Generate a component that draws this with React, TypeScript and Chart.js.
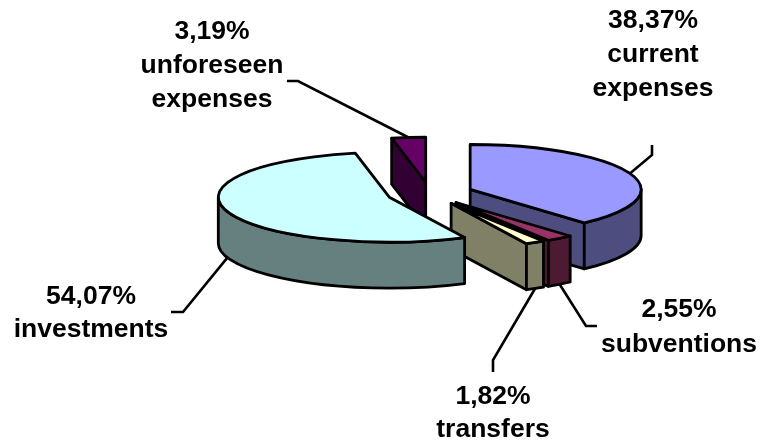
import { useEffect, useRef } from "react";
import { Chart, registerables } from "chart.js";

Chart.register(...registerables);

const categories = ["current expenses", "subventions", "transfers", "investments", "unforeseen expenses"];
const shares = [38.37, 2.55, 1.82, 54.07, 3.19];
const valueLabels = ["38,37%", "2,55%", "1,82%", "54,07%", "3,19%"];
const topColors = ["#9999FF", "#993366", "#FFFFCC", "#CCFFFF", "#660066"];
const sideColors = ["#4D4D80", "#4D1933", "#808066", "#668080", "#330033"];

// Slices are painted back to front so nearer walls cover farther ones.
const paintOrder = [4, 0, 1, 2, 3];

const TILT = 0.263;
const DEPTH = 46;
const EXPLODE = 43;
const STROKE = 2.8;
const LEADER_STROKE = 2.6;
const FONT_PX = 26.5;

// Label blocks: centre x and the first baseline, then the line pitch.
const labelBlocks = [
  { lines: [valueLabels[0], "current", "expenses"], x: 653, y: 28, pitch: 34 },
  { lines: [valueLabels[1], "subventions"], x: 679, y: 317, pitch: 35 },
  { lines: [valueLabels[2], "transfers"], x: 493, y: 404, pitch: 33 },
  { lines: [valueLabels[3], "investments"], x: 91, y: 304, pitch: 33 },
  { lines: [valueLabels[4], "unforeseen", "expenses"], x: 212, y: 39, pitch: 34 },
];

// Leader elbows, listed from the label end towards the slice.
const leaderElbows = [
  [[652, 145], [652, 155]],
  [[597, 326], [586, 326]],
  [[493, 372], [493, 360]],
  [[171, 312], [183, 312]],
  [[287, 81], [298, 81]],
];
// Whether a leader lands on the lower rim (front wall) of its slice.
const leaderOnWall = [false, true, true, true, false];

const pie3d = {
  id: "pie3d",
  beforeDatasetsDraw(chart: any) {
    const { ctx } = chart;
    const arcs = chart.getDatasetMeta(0).data;

    const geometry = (i: number) => {
      const arc = arcs[i];
      const mid = (arc.startAngle + arc.endAngle) / 2;
      const offset = arc.options.offset;
      return {
        cx: arc.x + Math.cos(mid) * offset,
        cy: arc.y + Math.sin(mid) * offset * TILT,
        r: arc.outerRadius,
        start: arc.startAngle,
        end: arc.endAngle,
        mid,
      };
    };

    ctx.save();
    ctx.lineJoin = "round";
    ctx.lineWidth = STROKE;
    ctx.strokeStyle = "#000000";

    const paint = (fill: string) => {
      ctx.fillStyle = fill;
      ctx.fill();
      ctx.stroke();
    };

    const radialFace = (g: any, a: number, fill: string) => {
      const px = g.cx + Math.cos(a) * g.r;
      const py = g.cy + Math.sin(a) * g.r * TILT;
      ctx.beginPath();
      ctx.moveTo(g.cx, g.cy);
      ctx.lineTo(px, py);
      ctx.lineTo(px, py + DEPTH);
      ctx.lineTo(g.cx, g.cy + DEPTH);
      ctx.closePath();
      paint(fill);
    };

    paintOrder.forEach((i) => {
      const g = geometry(i);
      const side = sideColors[i];
      const top = arcs[i].options.backgroundColor;

      // A cut face shows only when its outward normal points at the viewer.
      if (Math.cos(g.start) < -1e-6) radialFace(g, g.start, side);
      if (Math.cos(g.end) > 1e-6) radialFace(g, g.end, side);

      const lo = Math.max(g.start, 0);
      const hi = Math.min(g.end, Math.PI);
      if (hi > lo) {
        ctx.beginPath();
        ctx.ellipse(g.cx, g.cy, g.r, g.r * TILT, 0, lo, hi);
        ctx.ellipse(g.cx, g.cy + DEPTH, g.r, g.r * TILT, 0, hi, lo, true);
        ctx.closePath();
        paint(side);
      }

      ctx.beginPath();
      ctx.moveTo(g.cx, g.cy);
      ctx.ellipse(g.cx, g.cy, g.r, g.r * TILT, 0, g.start, g.end);
      ctx.closePath();
      paint(top);
    });

    // Leader lines run from each label's elbow to the slice's outer edge.
    ctx.lineJoin = "miter";
    ctx.lineWidth = LEADER_STROKE;
    leaderElbows.forEach((elbow, i) => {
      const g = geometry(i);
      const ex = g.cx + Math.cos(g.mid) * g.r;
      const ey = g.cy + Math.sin(g.mid) * g.r * TILT + (leaderOnWall[i] ? DEPTH : 0);
      ctx.beginPath();
      ctx.moveTo(elbow[0][0], elbow[0][1]);
      ctx.lineTo(elbow[1][0], elbow[1][1]);
      ctx.lineTo(ex, ey);
      ctx.stroke();
    });

    ctx.fillStyle = "#000000";
    ctx.font = `bold ${FONT_PX}px "Liberation Sans", Arial, sans-serif`;
    ctx.textAlign = "center";
    ctx.textBaseline = "alphabetic";
    labelBlocks.forEach((block) => {
      block.lines.forEach((line, n) => {
        ctx.fillText(line, block.x, block.y + n * block.pitch);
      });
    });
    ctx.restore();

    // The stock flat arcs are replaced by the extruded ones above.
    return false;
  },
};

export default function App() {
  const canvasRef = useRef<HTMLCanvasElement>(null);

  useEffect(() => {
    const chart = new Chart(canvasRef.current!, {
      type: "pie",
      data: {
        labels: categories,
        datasets: [
          {
            data: shares,
            backgroundColor: topColors,
            borderColor: "#000000",
            borderWidth: 2,
            offset: EXPLODE,
          },
        ],
      },
      options: {
        responsive: false,
        animation: false,
        rotation: 0,
        layout: { padding: { left: 98, right: 0, top: 0, bottom: 55 } },
        plugins: { legend: { display: false }, tooltip: { enabled: false } },
      },
      plugins: [pie3d],
    } as any);
    return () => chart.destroy();
  }, []);

  return (
    <canvas
      ref={canvasRef}
      width={762}
      height={442}
      style={{ display: "block", position: "absolute", left: 0, top: 0, background: "#FFFFFF" }}
    />
  );
}
